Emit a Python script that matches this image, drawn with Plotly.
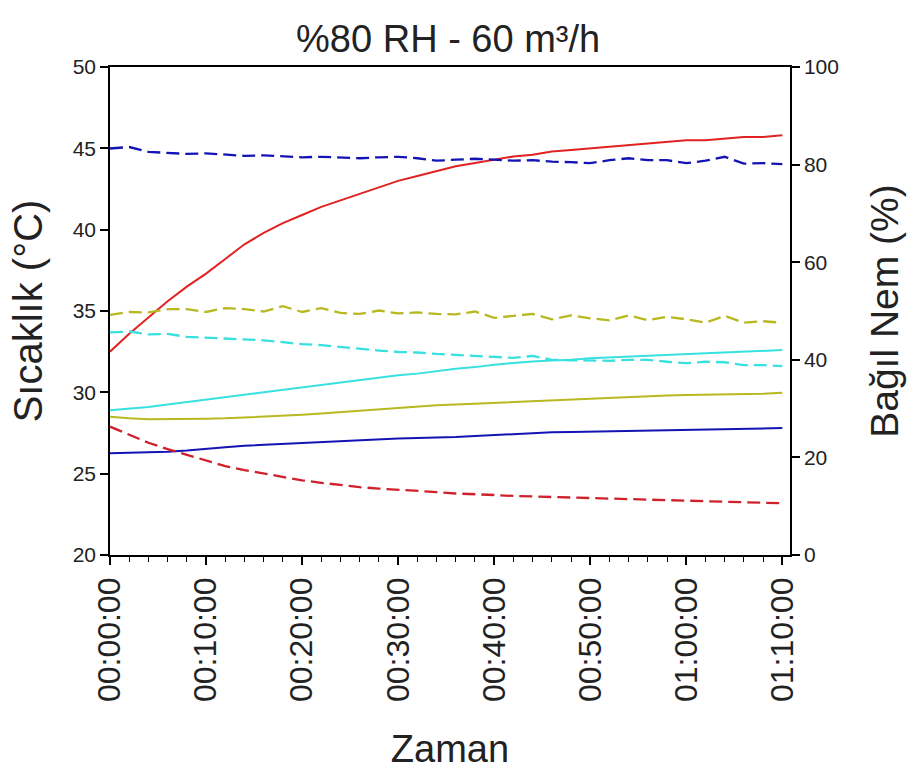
import plotly.graph_objects as go

# Time axis in minutes (one reading every 2 minutes)
minutes = [0, 2, 4, 6, 8, 10, 12, 14, 16, 18, 20, 22, 24, 26, 28, 30, 32, 34,
           36, 38, 40, 42, 44, 46, 48, 50, 52, 54, 56, 58, 60, 62, 64, 66, 68, 70]

# Temperatures (°C), left axis
temp_red = [32.5, 33.6, 34.6, 35.6, 36.5, 37.3, 38.2, 39.1, 39.8, 40.4, 40.9, 41.4,
            41.8, 42.2, 42.6, 43.0, 43.3, 43.6, 43.9, 44.1, 44.3, 44.5, 44.6, 44.8,
            44.9, 45.0, 45.1, 45.2, 45.3, 45.4, 45.5, 45.5, 45.6, 45.7, 45.7, 45.8]
temp_cyan = [28.9, 29.0, 29.1, 29.25, 29.4, 29.55, 29.7, 29.85, 30.0, 30.15, 30.3, 30.45,
             30.6, 30.75, 30.9, 31.05, 31.15, 31.3, 31.45, 31.55, 31.7, 31.8, 31.9, 31.95,
             32.0, 32.1, 32.15, 32.2, 32.25, 32.3, 32.35, 32.4, 32.45, 32.5, 32.55, 32.6]
temp_olive = [28.5, 28.4, 28.35, 28.35, 28.35, 28.38, 28.4, 28.45, 28.5, 28.55, 28.62, 28.7,
              28.78, 28.88, 28.98, 29.05, 29.12, 29.2, 29.25, 29.3, 29.35, 29.4, 29.45, 29.5,
              29.56, 29.62, 29.67, 29.72, 29.78, 29.8, 29.83, 29.85, 29.87, 29.9, 29.92, 29.98]
temp_blue = [26.26, 26.28, 26.3, 26.35, 26.42, 26.5, 26.62, 26.72, 26.78, 26.84, 26.9, 26.95,
             27.0, 27.08, 27.12, 27.16, 27.2, 27.22, 27.26, 27.32, 27.38, 27.44, 27.5, 27.54,
             27.56, 27.58, 27.6, 27.62, 27.66, 27.7, 27.72, 27.74, 27.76, 27.78, 27.79, 27.8]

# Relative humidity (%), right axis
rh_blue = [83.3, 83.6, 82.6, 82.4, 82.2, 82.3, 82.0, 81.8, 81.9, 81.7, 81.5, 81.6,
           81.4, 81.3, 81.5, 81.6, 81.3, 80.8, 81.0, 81.2, 81.0, 80.8, 80.9, 80.6,
           80.5, 80.3, 80.9, 81.3, 80.9, 80.9, 80.3, 80.8, 81.6, 80.2, 80.3, 80.1]
rh_olive = [49.2, 49.8, 49.7, 50.4, 50.4, 49.8, 50.6, 50.4, 49.9, 51.0, 49.8, 50.6,
            49.6, 49.4, 50.1, 49.5, 49.7, 49.4, 49.3, 49.9, 48.6, 49.0, 49.4, 48.3,
            49.1, 48.5, 48.1, 49.1, 48.1, 48.8, 48.3, 47.6, 49.0, 47.6, 47.9, 47.6]
rh_cyan = [45.6, 45.8, 45.2, 45.3, 44.7, 44.5, 44.3, 44.1, 44.0, 43.6, 43.2, 43.0,
           42.6, 42.3, 41.9, 41.6, 41.5, 41.2, 41.0, 40.7, 40.5, 40.4, 40.8, 40.0,
           39.9, 39.8, 39.8, 40.0, 40.0, 39.6, 39.3, 39.6, 39.5, 38.9, 38.9, 38.7]
rh_red = [26.3, 24.6, 23.0, 21.7, 20.5, 19.3, 18.2, 17.4, 16.7, 16.0, 15.3, 14.8,
          14.3, 13.9, 13.6, 13.4, 13.2, 12.9, 12.6, 12.5, 12.3, 12.1, 12.0, 11.8,
          11.7, 11.6, 11.5, 11.4, 11.3, 11.2, 11.2, 11.1, 11.0, 10.9, 10.8, 10.6]

time_ticks = [0, 10, 20, 30, 40, 50, 60, 70]
time_labels = ["00:00:00", "00:10:00", "00:20:00", "00:30:00",
               "00:40:00", "00:50:00", "01:00:00", "01:10:00"]

RED = "#e02222"
RED_D = "#d0202c"
BLUE = "#1414b4"
CYAN = "#38e0e0"
OLIVE = "#b8b820"
DASH = "13px,6px"

fig = go.Figure()

for y, c in [(temp_red, RED), (temp_cyan, CYAN), (temp_olive, OLIVE), (temp_blue, BLUE)]:
    fig.add_trace(go.Scatter(x=minutes, y=y, mode="lines",
                             line=dict(color=c, width=2), yaxis="y"))

for y, c in [(rh_blue, BLUE), (rh_olive, OLIVE), (rh_cyan, CYAN), (rh_red, RED_D)]:
    fig.add_trace(go.Scatter(x=minutes, y=y, mode="lines",
                             line=dict(color=c, width=2.3, dash=DASH), yaxis="y2"))

FONT = "Liberation Sans, Arial, sans-serif"
TXT = "#222"
axis_common = dict(showgrid=False, zeroline=False, showline=True, automargin=False,
                   linecolor="black", linewidth=1.5, ticks="outside",
                   tickcolor="black", tickwidth=1.5)

fig.update_layout(
    width=909, height=772,
    margin=dict(l=110, r=119, t=67, b=217),
    paper_bgcolor="white", plot_bgcolor="white",
    showlegend=False,
    title=dict(text="%80 RH - 60 m³/h", x=0.493, xanchor="center",
               y=0.95, yanchor="middle",
               font=dict(family=FONT, size=38, color=TXT)),
    xaxis=dict(**axis_common, range=[0, 70.8], tickvals=time_ticks,
               ticktext=time_labels, tickangle=-90, ticklen=8, mirror=True,
               tickfont=dict(family=FONT, size=32, color=TXT),
               minor=dict(dtick=2, tick0=0, ticks="outside", ticklen=5,
                          tickcolor="black", tickwidth=1.2),
               title=dict(text="Zaman", standoff=34,
                          font=dict(family=FONT, size=38, color=TXT))),
    yaxis=dict(**axis_common, range=[20, 50], dtick=5, ticklen=8,
               tickfont=dict(family=FONT, size=21, color=TXT),
               title=dict(text="Sıcaklık (°C)", standoff=18,
                          font=dict(family=FONT, size=40, color=TXT))),
    yaxis2=dict(**axis_common, range=[0, 100], dtick=20, ticklen=8,
                overlaying="y", side="right",
                tickfont=dict(family=FONT, size=21, color=TXT),
                title=dict(text="Bağıl Nem (%)", standoff=33,
                           font=dict(family=FONT, size=39, color=TXT))),
)

fig.write_html("out.html")
